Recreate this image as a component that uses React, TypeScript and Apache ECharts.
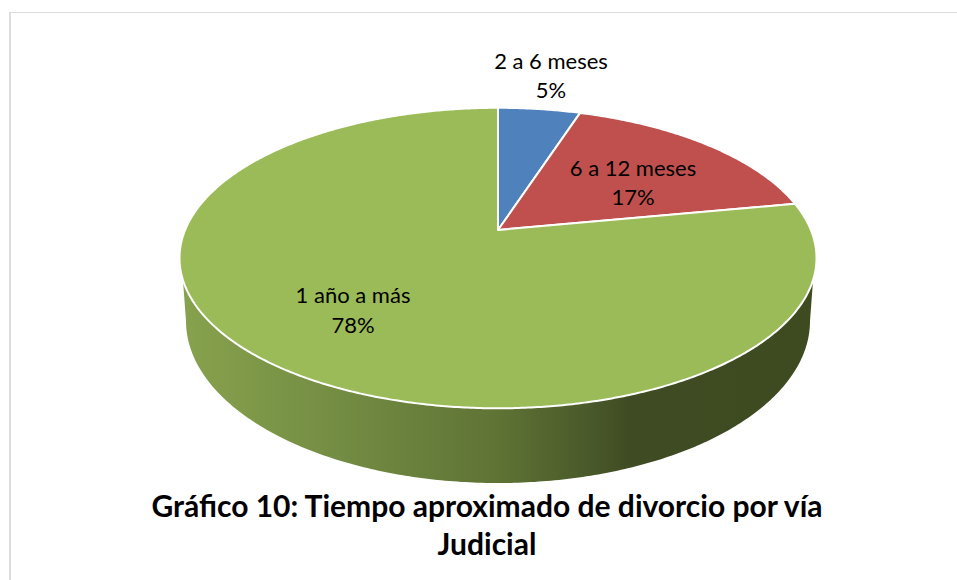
import React, { useEffect, useRef } from "react";
import * as echarts from "echarts";

const categories = ["2 a 6 meses", "6 a 12 meses", "1 año a más"];
const values = [5, 17, 78];
const percentLabels = ["5%", "17%", "78%"];
const colors = ["#4F81BD", "#C0504D", "#9BBB59"];
const titleLines = ["Gráfico 10: Tiempo aproximado de divorcio por vía", "Judicial"];

const labelPositions = [
  [551, 75],
  [633, 182],
  [353, 309.5],
];

// Projective view of the pie's top face, as seen with perspective
const CX = 498;
const APEX_Y = 230;
const RX = 312.9;
const RY = 145;
const PERSPECTIVE = 0.1867;
// Lower rim of the side wall
const BASE_CY = 321;
const BASE_RX = 312;
const BASE_RY = 162;
const WALL_TOP_Y = 280;
const FONT = "Lato, Carlito, sans-serif";

const total = values.reduce((a, b) => a + b, 0);

function project(theta: number): number[] {
  const X = Math.sin(theta);
  const Y = Math.cos(theta);
  const d = 1 + PERSPECTIVE * Y;
  return [CX + (RX * X) / d, APEX_Y - (RY * Y) / d];
}

function arcPoints(from: number, to: number): number[][] {
  const n = Math.max(8, Math.ceil(Math.abs(to - from) * 120));
  const pts: number[][] = [];
  for (let i = 0; i <= n; i++) pts.push(project(from + ((to - from) * i) / n));
  return pts;
}

function wallPoints(): number[][] {
  const rim = arcPoints(Math.PI * 1.75, Math.PI * 0.25).filter((p) => p[1] >= WALL_TOP_Y);
  const base: number[][] = [];
  for (let i = 0; i <= 240; i++) {
    const t = Math.PI * 0.5 + (Math.PI * i) / 240;
    base.push([CX + BASE_RX * Math.sin(t), BASE_CY - BASE_RY * Math.cos(t)]);
  }
  return rim.concat(base);
}

function renderSlice(params: any, api: any) {
  const i = params.dataIndex;
  let before = 0;
  for (let k = 0; k < i; k++) before += values[k];
  const start = (before / total) * Math.PI * 2;
  const end = ((before + api.value(0)) / total) * Math.PI * 2;
  const children: any[] = [];
  if (i === values.length - 1) {
    children.push({
      type: "polygon",
      shape: { points: wallPoints() },
      style: {
        fill: new echarts.graphic.LinearGradient(0, 0, 1, 0, [
          { offset: 0, color: "#87A24D" },
          { offset: 0.25, color: "#738C43" },
          { offset: 0.5, color: "#5F7335" },
          { offset: 0.64, color: "#4A5A2A" },
          { offset: 0.71, color: "#3F4B22" },
          { offset: 1, color: "#3E4A20" },
        ]),
      },
    });
  }
  children.push({
    type: "polygon",
    shape: { points: [[CX, APEX_Y], ...arcPoints(start, end)] },
    style: { fill: colors[i], stroke: "#FFFFFF", lineWidth: 2, lineJoin: "round" },
  });
  return { type: "group", children };
}

function renderLabel(params: any) {
  const i = params.dataIndex;
  return {
    type: "text",
    x: labelPositions[i][0],
    y: labelPositions[i][1],
    style: {
      text: categories[i] + "\n" + percentLabels[i],
      fill: "#000000",
      font: "400 22px " + FONT,
      lineHeight: 29.5,
      align: "center",
      verticalAlign: "middle",
    },
  };
}

export default function App() {
  const ref = useRef<HTMLDivElement>(null);
  useEffect(() => {
    const chart = echarts.init(ref.current!, null, { renderer: "svg" });
    chart.setOption({
      animation: false,
      backgroundColor: "#FFFFFF",
      title: {
        text: titleLines.join("\n"),
        left: 482,
        top: 481,
        textAlign: "center",
        textStyle: {
          fontFamily: FONT,
          fontWeight: 700,
          fontSize: 30,
          lineHeight: 38,
          color: "#000000",
        },
      },
      graphic: [
        { type: "rect", shape: { x: 9, y: 12, width: 2, height: 568 }, style: { fill: "#DCDCDC" }, silent: true },
        { type: "rect", shape: { x: 9, y: 12, width: 948, height: 1 }, style: { fill: "#DCDCDC" }, silent: true },
      ],
      series: [
        {
          type: "custom",
          coordinateSystem: "none",
          silent: true,
          z: 2,
          renderItem: renderSlice,
          data: values.map((v, i) => ({ name: categories[i], value: [v] })),
        },
        {
          type: "custom",
          coordinateSystem: "none",
          silent: true,
          z: 3,
          renderItem: renderLabel,
          data: values.map((v, i) => ({ name: categories[i], value: [v] })),
        },
      ],
    });
    return () => chart.dispose();
  }, []);
  return <div ref={ref} style={{ position: "absolute", left: 0, top: 0, width: 957, height: 580 }} />;
}
